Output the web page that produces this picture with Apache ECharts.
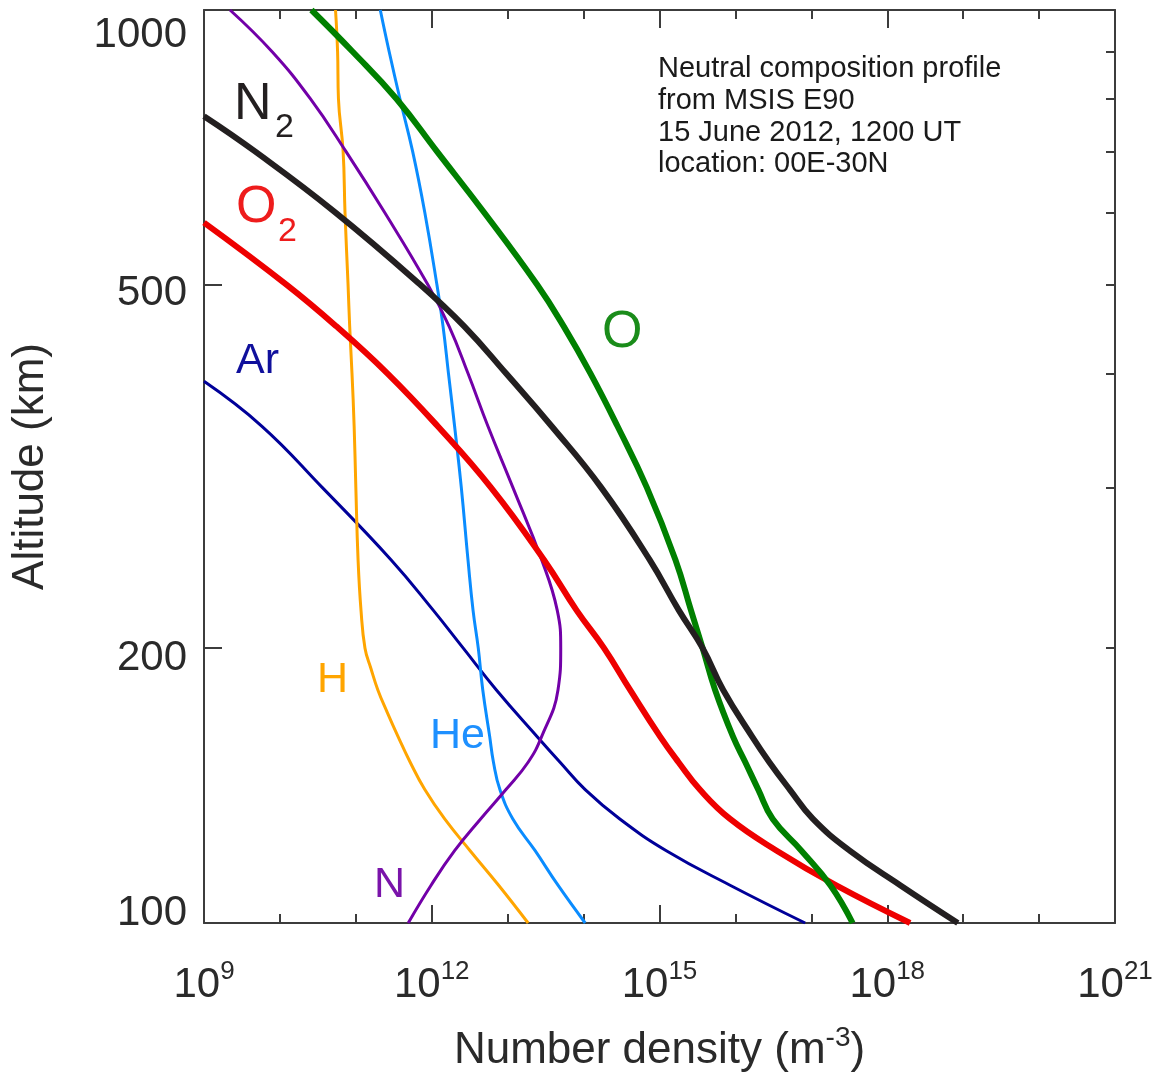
<!DOCTYPE html>
<html>
<head>
<meta charset="utf-8">
<script src="https://cdn.jsdelivr.net/npm/echarts@6/dist/echarts.min.js"></script>
<style>
  html, body { margin: 0; padding: 0; background: #fff; }
  #chart { width: 1162px; height: 1077px; }
</style>
</head>
<body>
<div id="chart"></div>
<script>
// Neutral composition profile (MSIS E90), number density vs altitude.

// Altitude grids (km)
const ALT_STD = [100, 110, 120, 130, 140, 150, 160, 180, 200, 220, 250, 300, 350, 400, 450, 500, 600, 700, 800, 900, 1000];
const ALT_H   = [100, 110, 120, 130, 140, 150, 160, 170, 180, 190, 200, 220, 250, 300, 350, 400, 450, 500, 600, 700, 800, 900, 1000];
const ALT_N2  = [100, 110, 120, 130, 140, 150, 160, 180, 200, 220, 250, 300, 350, 400, 450, 500, 600, 700, 765];
const ALT_O2  = [100, 110, 120, 130, 140, 150, 160, 180, 200, 220, 250, 300, 350, 400, 450, 500, 585];
const ALT_AR  = [100, 110, 120, 130, 140, 150, 160, 180, 200, 220, 250, 300, 350, 392];

// Number densities (m^-3)
const DEN_N2 = [8.5e18, 1.48e18, 3.2e17, 1.05e17, 5.2e16, 2.8e16, 1.66e16, 6.9e15, 3.7e15, 1.8e15, 7.4e14, 1.7e14, 3.8e13, 9.5e12, 2.7e12, 7.1e11, 5.4e10, 4.7e9, 1.0e9];
const DEN_O2 = [2.0e18, 2.1e17, 3.5e16, 8.5e15, 3.4e15, 1.78e15, 1.02e15, 4.1e14, 1.86e14, 8.1e13, 3.0e13, 6.0e12, 1.2e12, 2.6e11, 5.6e10, 1.23e10, 1.0e9];
const DEN_O  = [3.5e17, 1.78e17, 7.4e16, 3.1e16, 2.0e16, 1.35e16, 9.3e15, 5.4e15, 3.7e15, 2.6e15, 1.62e15, 6.8e14, 2.8e14, 1.23e14, 5.5e13, 2.45e13, 4.9e12, 1.17e12, 3.4e11, 9.1e10, 2.6e10];
const DEN_AR = [8.3e16, 8.5e15, 1.23e15, 3.0e14, 1.05e14, 4.9e13, 2.45e13, 7.1e12, 2.6e12, 1.05e12, 2.9e11, 3.6e10, 5.8e9, 1.0e9];
const DEN_HE = [1.05e14, 4.6e13, 2.3e13, 1.17e13, 7.9e12, 6.5e12, 5.8e12, 4.7e12, 4.1e12, 3.5e12, 3.0e12, 2.45e12, 2.0e12, 1.66e12, 1.41e12, 1.17e12, 8.1e11, 5.6e11, 3.8e11, 2.75e11, 2.1e11];
const DEN_H  = [1.86e13, 7.6e12, 3.2e12, 1.48e12, 8.1e11, 5.2e11, 3.6e11, 2.6e11, 1.95e11, 1.58e11, 1.32e11, 1.17e11, 1.07e11, 1.0e11, 9.5e10, 8.9e10, 8.3e10, 7.9e10, 7.2e10, 6.8e10, 5.9e10, 5.75e10, 5.4e10];
const DEN_N  = [4.9e11, 9.8e11, 2.0e12, 4.4e12, 9.5e12, 1.86e13, 2.8e13, 4.6e13, 5.0e13, 4.5e13, 2.8e13, 1.17e13, 5.5e12, 3.0e12, 1.7e12, 8.9e11, 2.4e11, 7.4e10, 2.5e10, 7.9e9, 2.2e9];

// Axis ticks and labels
const X_MIN = 1e9, X_MAX = 1e21;
const X_LABEL_STEP_DECADES = 3;           // labels at 10^9, 10^12, ... 10^21
const X_MAJOR_TICKS = [1e12, 1e15, 1e18];
const X_MINOR_TICKS = [1e10, 1e11, 1e13, 1e14, 1e16, 1e17, 1e19, 1e20];
const Y_LABEL_TICKS = [100, 200, 500, 1000];
const Y_LEFT_TICKS = [200, 500];
const Y_RIGHT_TICKS = [200, 300, 400, 500, 600, 700, 800, 900];

const ANNOTATION = ['Neutral composition profile', 'from MSIS E90', '15 June 2012, 1200 UT', 'location: 00E-30N'];

const FONT = "'Liberation Sans', Helvetica, Arial, sans-serif";
const AXIS_COLOR = '#3c3c3c';
const TEXT_COLOR = '#2a2a2a';

function pairs(den, alt) { return den.map((d, i) => [d, alt[i]]); }

const speciesSeries = [
  { name: 'Ar', den: DEN_AR, alt: ALT_AR, color: '#000099', width: 3 },
  { name: 'H',  den: DEN_H,  alt: ALT_H,  color: '#ffa500', width: 3 },
  { name: 'He', den: DEN_HE, alt: ALT_STD, color: '#0a8cff', width: 3 },
  { name: 'N',  den: DEN_N,  alt: ALT_STD, color: '#7200a8', width: 3 },
  { name: 'O2', den: DEN_O2, alt: ALT_O2, color: '#ee0000', width: 6 },
  { name: 'O',  den: DEN_O,  alt: ALT_STD, color: '#008000', width: 6 },
  { name: 'N2', den: DEN_N2, alt: ALT_N2, color: '#231f20', width: 6 }
];

function xAxisDef(position, ticks, tickLen, withLabels, withLine) {
  return {
    type: 'log', logBase: 10, min: X_MIN, max: X_MAX, position: position,
    interval: X_LABEL_STEP_DECADES,
    axisLine: { show: withLine, lineStyle: { color: AXIS_COLOR, width: 2 } },
    axisTick: { show: true, inside: true, length: tickLen, customValues: ticks, lineStyle: { color: AXIS_COLOR, width: 2 } },
    axisLabel: withLabels ? {
      show: true, margin: 36, color: TEXT_COLOR,
      showMinLabel: true, showMaxLabel: true, hideOverlap: false,
      formatter: v => '{b|10}{s|' + Math.round(Math.log10(v)) + '}',
      rich: {
        b: { fontSize: 42, lineHeight: 42, fontFamily: FONT, color: TEXT_COLOR, padding: [10, 0, 0, 0] },
        s: { fontSize: 26, lineHeight: 26, fontFamily: FONT, color: TEXT_COLOR, verticalAlign: 'top' }
      }
    } : { show: false },
    splitLine: { show: false }, minorTick: { show: false }
  };
}

const yLabelStyle = { 100: 'lo', 200: 'mid2', 500: 'mid5', 1000: 'hi' };

const option = {
  animation: false,
  backgroundColor: '#ffffff',
  grid: { left: 204, top: 10, width: 911, height: 913, containLabel: false, outerBoundsMode: 'none' },
  xAxis: [
    Object.assign(xAxisDef('bottom', X_MAJOR_TICKS, 18, true, true), {
      name: '{a|Number density (m}{s|-3}{a|)}',
      nameLocation: 'middle', nameGap: 101,
      nameTextStyle: {
        rich: {
          a: { fontSize: 44, lineHeight: 44, fontFamily: FONT, color: TEXT_COLOR, padding: [10, 0, 0, 0] },
          s: { fontSize: 28, lineHeight: 28, fontFamily: FONT, color: TEXT_COLOR, verticalAlign: 'top' }
        }
      }
    }),
    xAxisDef('bottom', X_MINOR_TICKS, 9, false, false),
    xAxisDef('top', X_MAJOR_TICKS, 18, false, true),
    xAxisDef('top', X_MINOR_TICKS, 9, false, false)
  ],
  yAxis: [
    {
      type: 'log', logBase: 10, min: 100, max: 1000, position: 'left',
      name: 'Altitude (km)', nameLocation: 'middle', nameGap: 151,
      nameTextStyle: { fontSize: 44, fontFamily: FONT, color: TEXT_COLOR },
      axisLine: { show: true, lineStyle: { color: AXIS_COLOR, width: 2 } },
      axisTick: { show: true, inside: true, length: 18, customValues: Y_LEFT_TICKS, lineStyle: { color: AXIS_COLOR, width: 2 } },
      axisLabel: {
        show: true, customValues: Y_LABEL_TICKS, margin: 17,
        showMinLabel: true, showMaxLabel: true, hideOverlap: false,
        formatter: v => '{' + yLabelStyle[Math.round(v)] + '|' + Math.round(v) + '}',
        rich: {
          hi:   { fontSize: 42, lineHeight: 42, fontFamily: FONT, color: TEXT_COLOR, padding: [50, 0, 0, 0] },
          mid5: { fontSize: 42, lineHeight: 42, fontFamily: FONT, color: TEXT_COLOR, padding: [17, 0, 0, 0] },
          mid2: { fontSize: 42, lineHeight: 42, fontFamily: FONT, color: TEXT_COLOR, padding: [21, 0, 0, 0] },
          lo:   { fontSize: 42, lineHeight: 42, fontFamily: FONT, color: TEXT_COLOR, padding: [0, 0, 20, 0] }
        }
      },
      splitLine: { show: false }, minorTick: { show: false }
    },
    {
      type: 'log', logBase: 10, min: 100, max: 1000, position: 'right',
      axisLine: { show: true, lineStyle: { color: AXIS_COLOR, width: 2 } },
      axisTick: { show: true, inside: true, length: 9, customValues: Y_RIGHT_TICKS, lineStyle: { color: AXIS_COLOR, width: 2 } },
      axisLabel: { show: false },
      splitLine: { show: false }, minorTick: { show: false }
    }
  ],
  series: speciesSeries.map(s => ({
    type: 'line', name: s.name, xAxisIndex: 0, yAxisIndex: 0,
    data: pairs(s.den, s.alt),
    showSymbol: false, symbol: 'none', smooth: 0.45, clip: true,
    lineStyle: { color: s.color, width: s.width, cap: 'butt', join: 'round' },
    emphasis: { disabled: true }, silent: true
  })),
  graphic: [
    { type: 'text', x: 658, y: 53, style: { text: ANNOTATION.join('\n'), fontSize: 29, lineHeight: 31.8, fontFamily: FONT, fill: '#1a1a1a', align: 'left', verticalAlign: 'top' } },
    // species labels
    { type: 'text', x: 234, y: 105, style: { text: 'N', fontSize: 52, fontFamily: FONT, fill: '#231f20', verticalAlign: 'middle' } },
    { type: 'text', x: 275, y: 128, style: { text: '2', fontSize: 34, fontFamily: FONT, fill: '#231f20', verticalAlign: 'middle' } },
    { type: 'text', x: 236, y: 208, style: { text: 'O', fontSize: 52, fontFamily: FONT, fill: '#ee1c1c', verticalAlign: 'middle' } },
    { type: 'text', x: 278, y: 232, style: { text: '2', fontSize: 34, fontFamily: FONT, fill: '#ee1c1c', verticalAlign: 'middle' } },
    { type: 'text', x: 602, y: 333, style: { text: 'O', fontSize: 52, fontFamily: FONT, fill: '#1a8c1a', verticalAlign: 'middle' } },
    { type: 'text', x: 236, y: 361, style: { text: 'Ar', fontSize: 43, fontFamily: FONT, fill: '#10109c', verticalAlign: 'middle' } },
    { type: 'text', x: 317, y: 680, style: { text: 'H', fontSize: 43, fontFamily: FONT, fill: '#ffa500', verticalAlign: 'middle' } },
    { type: 'text', x: 430, y: 736, style: { text: 'He', fontSize: 43, fontFamily: FONT, fill: '#1e90ff', verticalAlign: 'middle' } },
    { type: 'text', x: 374, y: 885, style: { text: 'N', fontSize: 43, fontFamily: FONT, fill: '#7a14aa', verticalAlign: 'middle' } }
  ]
};

const chart = echarts.init(document.getElementById('chart'), null, { renderer: 'canvas' });
chart.setOption(option);
</script>
</body>
</html>
